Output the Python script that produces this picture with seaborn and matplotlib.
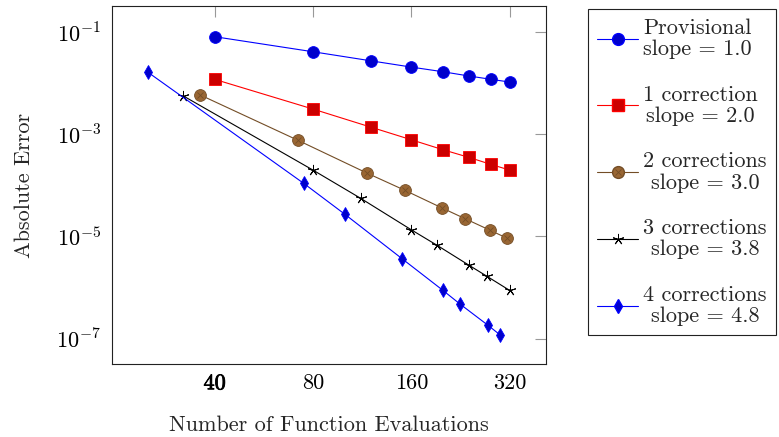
import numpy as np
import pandas as pd
import matplotlib
matplotlib.use("Agg")
import matplotlib.pyplot as plt
import seaborn as sns
from matplotlib.lines import Line2D
from matplotlib.legend_handler import HandlerTuple
from matplotlib.ticker import FixedLocator, FixedFormatter, NullLocator
import matplotlib.patheffects as pe

# ---- data ----
x_prov = [40, 80, 120, 160, 200, 240, 280, 320]
y_prov = [0.081, 0.0411, 0.0274, 0.0206, 0.0167, 0.0138, 0.0119, 0.0105]

x_c1 = [40, 80, 120, 160, 200, 240, 280, 320]
y_c1 = [0.01186, 0.00311, 0.001384, 0.00078, 0.000498, 0.000353, 0.000258, 0.000199]

x_c2 = [36, 72, 117, 153, 198, 234, 279, 315]
y_c2 = [5.93e-3, 7.6e-4, 1.74e-4, 7.98e-5, 3.65e-5, 2.22e-5, 1.32e-5, 9.18e-6]

x_c3 = [32, 80, 112, 160, 192, 240, 272, 320]
y_c3 = [5.66e-3, 1.99e-4, 5.57e-5, 1.35e-5, 6.70e-6, 2.75e-6, 1.68e-6, 8.81e-7]

x_c4 = [25, 75, 100, 150, 200, 225, 275, 300]
y_c4 = [1.63e-2, 1.09e-4, 2.74e-5, 3.66e-6, 8.81e-7, 4.82e-7, 1.82e-7, 1.17e-7]

labels = ["Provisional\nslope = 1.0", "1 correction\nslope = 2.0",
          "2 corrections\nslope = 3.0", "3 corrections\nslope = 3.8",
          "4 corrections\nslope = 4.8"]
xticks = [40, 80, 160, 320]
xticklabels = ["40", "80", "160", "320"]
yticks = [1e-1, 1e-3, 1e-5, 1e-7]
yticklabels = [r"$10^{-1}$", r"$10^{-3}$", r"$10^{-5}$", r"$10^{-7}$"]

# ---- style ----
sns.set_style("white")
plt.rcParams["font.family"] = ["serif"]
plt.rcParams["font.serif"] = ["cmr10"]
plt.rcParams["mathtext.fontset"] = "cm"
plt.rcParams["axes.unicode_minus"] = False
plt.rcParams["axes.formatter.use_mathtext"] = True
FS = 16

blue = (0, 0, 1)
blue_fill = (0, 0, 0.8)
red = (1, 0, 0)
red_fill = (0.8, 0, 0)
brown_line = (0.45, 0.3, 0.15)
brown_fill = (0.6, 0.4, 0.2)

fig = plt.figure(figsize=(7.79, 4.37), dpi=100)
ax = fig.add_axes([112 / 779, 1 - 364 / 437, (545.7 - 112) / 779, (364 - 6) / 437])

common = dict(estimator=None, sort=False, ax=ax, legend=False)

sns.lineplot(x=x_prov, y=y_prov, color=blue, lw=0.8, marker="o", markersize=8.5,
             markerfacecolor=blue_fill, markeredgecolor=blue, markeredgewidth=0.6, **common)
sns.lineplot(x=x_c1, y=y_c1, color=red, lw=0.8, marker="s", markersize=8,
             markerfacecolor=red_fill, markeredgecolor=red, markeredgewidth=0.6, **common)
sns.lineplot(x=x_c2, y=y_c2, color=brown_line, lw=0.8, marker="o", markersize=8.5,
             markerfacecolor=brown_fill, markeredgecolor=brown_line, markeredgewidth=0.6, **common)
ax.plot(x_c2, y_c2, ls="none", marker="x", markersize=5, markeredgecolor=brown_line,
        markeredgewidth=0.6)
sns.lineplot(x=x_c3, y=y_c3, color="black", lw=0.8, marker=(5, 2, 0), markersize=8,
             markeredgecolor="black", markeredgewidth=0.7, **common)
sns.lineplot(x=x_c4, y=y_c4, color=blue, lw=0.8, marker="d", markersize=7.5,
             markerfacecolor=blue_fill, markeredgecolor=blue, markeredgewidth=0.6, **common)

ax.set_xscale("log")
ax.set_yscale("log")
ax.set_xlim(19.4, 412.6)
ax.set_ylim(10 ** -7.495, 10 ** -0.491)

ax.xaxis.set_major_locator(FixedLocator(xticks))
ax.xaxis.set_major_formatter(FixedFormatter(xticklabels))
ax.yaxis.set_major_locator(FixedLocator(yticks))
ax.yaxis.set_major_formatter(FixedFormatter(yticklabels))
ax.xaxis.set_minor_locator(NullLocator())
ax.yaxis.set_minor_locator(NullLocator())

ax.tick_params(axis="both", which="major", direction="in", length=8, width=0.8,
               color="0.6", labelcolor="black", labelsize=FS, top=True, right=True)
ax.tick_params(axis="x", pad=7)
ax.tick_params(axis="y", pad=8)
for lab in ax.get_xticklabels():
    if lab.get_text() == "40":
        lab.set_path_effects([pe.withStroke(linewidth=0.6, foreground="black")])

for s in ax.spines.values():
    s.set_color("#222222")
    s.set_linewidth(0.8)

ax.set_xlabel("Number of Function Evaluations", fontsize=FS, labelpad=16)
ax.set_ylabel("Absolute Error", fontsize=FS, labelpad=16)

# ---- legend ----
h_prov = Line2D([], [], color=blue, lw=0.8, marker="o", markersize=8.5,
                markerfacecolor=blue_fill, markeredgecolor=blue)
h_c1 = Line2D([], [], color=red, lw=0.8, marker="s", markersize=8,
              markerfacecolor=red_fill, markeredgecolor=red)
h_c2a = Line2D([], [], color=brown_line, lw=0.8, marker="o", markersize=8.5,
               markerfacecolor=brown_fill, markeredgecolor=brown_line)
h_c2b = Line2D([], [], ls="none", marker="x", markersize=5,
               markeredgecolor=brown_line, markeredgewidth=0.6)
h_c3 = Line2D([], [], color="black", lw=0.8, marker=(5, 2, 0), markersize=8,
              markeredgecolor="black", markeredgewidth=0.7)
h_c4 = Line2D([], [], color=blue, lw=0.8, marker="d", markersize=7.5,
              markerfacecolor=blue_fill, markeredgecolor=blue)

leg = fig.legend([h_prov, h_c1, (h_c2a, h_c2b), h_c3, h_c4], labels,
                 handler_map={tuple: HandlerTuple(ndivide=1)},
                 loc="upper left", bbox_to_anchor=(588 / 779, 1 - 9 / 437),
                 bbox_transform=fig.transFigure, borderaxespad=0, borderpad=0.42,
                 fontsize=FS, handlelength=1.85, handletextpad=0.22,
                 labelspacing=1.18, fancybox=False, framealpha=1,
                 edgecolor="#222222")
leg.get_frame().set_linewidth(0.8)
for t in leg.get_texts():
    t.set_multialignment("center")
    t.set_linespacing(1.1)

fig.savefig("out.png", dpi=100)
